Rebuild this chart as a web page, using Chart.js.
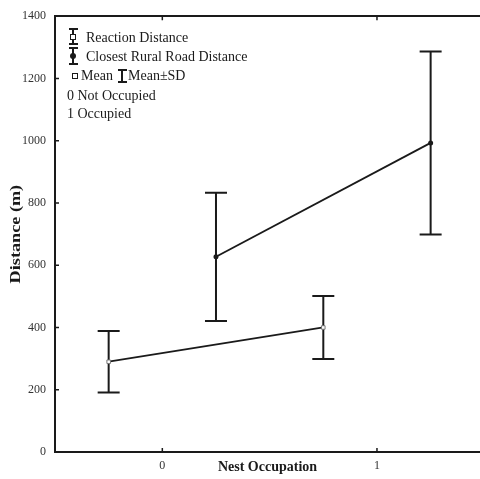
<!DOCTYPE html>
<html>
<head>
<meta charset="utf-8">
<script src="https://cdn.jsdelivr.net/npm/chart.js@4.4.0/dist/chart.umd.min.js"></script>
<style>
  body { margin: 0; background: #fff; }
  #wrap { width: 480px; height: 479px; position: relative; }
</style>
</head>
<body>
<div id="wrap"><canvas id="chart_nest"></canvas></div>
<script>
// groups on the x axis (0 = not occupied, 1 = occupied)
const categories = [0, 1]
const tickLabels = ['0', '1']
const yTicks = [0, 200, 400, 600, 800, 1000, 1200, 1400]

// means and standard deviations
const reactionMean = [290, 400]
const reactionSD = [99, 101]
const roadMean = [627, 993]
const roadSD = [206, 294]

const seriesNames = ['Reaction Distance', 'Closest Rural Road Distance']
const groupNames = ['0 Not Occupied', '1 Occupied']
const yTitle = 'Distance (m)'

const INK = '#1a1a1a'
const SERIF = '"Liberation Serif", "DejaVu Serif", serif'
const dodge = 0.25

function points(means, shift) {
    return categories.map((c, i) => ({ x: c + shift, y: means[i] }))
}

// vertical SD bars with caps, drawn under the markers
const errorBars = {
    id: 'errorBars',
    beforeDatasetsDraw(chart) {
        const ctx = chart.ctx
        const y = chart.scales.y
        chart.data.datasets.forEach((ds, i) => {
            const meta = chart.getDatasetMeta(i)
            meta.data.forEach((pt, j) => {
                const top = y.getPixelForValue(ds.data[j].y + ds.sd[j])
                const bot = y.getPixelForValue(ds.data[j].y - ds.sd[j])
                ctx.save()
                ctx.strokeStyle = INK
                ctx.lineWidth = 2
                ctx.beginPath()
                ctx.moveTo(pt.x, top); ctx.lineTo(pt.x, bot)
                ctx.moveTo(pt.x - 11, top); ctx.lineTo(pt.x + 11, top)
                ctx.moveTo(pt.x - 11, bot); ctx.lineTo(pt.x + 11, bot)
                ctx.stroke()
                ctx.restore()
            })
        })
    }
}

// inward tick marks, y title and the in-plot legend
const frameAndLegend = {
    id: 'frameAndLegend',
    afterDraw(chart) {
        const ctx = chart.ctx
        const area = chart.chartArea
        const x = chart.scales.x
        const y = chart.scales.y
        ctx.save()
        ctx.strokeStyle = INK
        ctx.lineWidth = 1.5
        ctx.beginPath()
        categories.forEach(c => {
            const px = x.getPixelForValue(c)
            ctx.moveTo(px, area.bottom); ctx.lineTo(px, area.bottom - 4)
            ctx.moveTo(px, area.top); ctx.lineTo(px, area.top + 4)
        })
        yTicks.forEach(v => {
            const py = y.getPixelForValue(v)
            ctx.moveTo(area.left, py); ctx.lineTo(area.left + 4, py)
        })
        ctx.stroke()

        // y axis title, a little stretched like the original
        ctx.save()
        ctx.translate(16, (area.top + area.bottom) / 2)
        ctx.rotate(-Math.PI / 2)
        ctx.scale(1.3, 1)
        ctx.font = 'bold 14px ' + SERIF
        ctx.fillStyle = INK
        ctx.textAlign = 'center'
        ctx.textBaseline = 'middle'
        ctx.fillText(yTitle, 0, 0)
        ctx.restore()

        // legend icons
        ctx.lineWidth = 2
        ctx.beginPath()
        ctx.moveTo(73, 29); ctx.lineTo(73, 44)
        ctx.moveTo(69, 29); ctx.lineTo(78, 29)
        ctx.moveTo(69, 44); ctx.lineTo(78, 44)
        ctx.moveTo(73, 48); ctx.lineTo(73, 64)
        ctx.moveTo(69, 48); ctx.lineTo(78, 48)
        ctx.moveTo(69, 64); ctx.lineTo(78, 64)
        ctx.moveTo(122, 70); ctx.lineTo(122, 82)
        ctx.moveTo(118, 70); ctx.lineTo(127, 70)
        ctx.moveTo(118, 82); ctx.lineTo(127, 82)
        ctx.stroke()
        ctx.lineWidth = 1
        ctx.fillStyle = '#fff'
        ctx.fillRect(70.5, 34.5, 5, 5); ctx.strokeRect(70.5, 34.5, 5, 5)
        ctx.fillRect(72.5, 73.5, 5, 5); ctx.strokeRect(72.5, 73.5, 5, 5)
        ctx.fillStyle = INK
        ctx.beginPath(); ctx.arc(73, 56, 3, 0, Math.PI * 2); ctx.fill()

        ctx.font = '14px ' + SERIF
        ctx.textBaseline = 'middle'
        ctx.fillText(seriesNames[0], 86, 38)
        ctx.fillText(seriesNames[1], 86, 57)
        ctx.fillText('Mean', 81, 76)
        ctx.fillText('Mean±SD', 128, 76)
        ctx.fillText(groupNames[0], 67, 96)
        ctx.fillText(groupNames[1], 67, 114)
        ctx.restore()
    }
}

const config = {
    type: 'line',
    data: {
        datasets: [{
            label: seriesNames[0],
            data: points(reactionMean, -dodge),
            sd: reactionSD,
            borderColor: INK,
            borderWidth: 1.8,
            pointStyle: 'rect',
            pointRadius: 2.5,
            pointBackgroundColor: '#fff',
            pointBorderColor: '#777',
            pointBorderWidth: 1
        }, {
            label: seriesNames[1],
            data: points(roadMean, dodge),
            sd: roadSD,
            borderColor: INK,
            borderWidth: 1.8,
            pointStyle: 'circle',
            pointRadius: 2.5,
            pointBackgroundColor: INK,
            pointBorderColor: INK,
            pointBorderWidth: 0
        }]
    },
    options: {
        responsive: true,
        maintainAspectRatio: false,
        animation: false,
        layout: { padding: 0, autoPadding: false },
        plugins: {
            legend: { display: false },
            tooltip: { enabled: false }
        },
        scales: {
            x: {
                type: 'linear',
                position: 'bottom',
                min: -0.5,
                max: 1.48,
                afterBuildTicks: (s) => { s.ticks = categories.map(v => ({ value: v })) },
                afterFit: (s) => { s.height = 27 },
                grid: { display: false, drawTicks: false },
                border: { display: true, color: INK, width: 2 },
                ticks: {
                    padding: 7,
                    color: '#333',
                    font: { family: SERIF, size: 12 },
                    callback: (v) => tickLabels[categories.indexOf(v)]
                },
                title: {
                    display: true,
                    text: 'Nest Occupation',
                    color: INK,
                    font: { family: SERIF, size: 14, weight: 'bold' },
                    padding: { top: 0, bottom: 3 }
                }
            },
            x2: {
                type: 'linear',
                position: 'top',
                min: -0.5,
                max: 1.48,
                afterBuildTicks: (s) => { s.ticks = categories.map(v => ({ value: v })) },
                afterFit: (s) => { s.height = 12 },
                grid: { display: false, drawTicks: false },
                border: { display: true, color: INK, width: 2 },
                ticks: { display: false }
            },
            y: {
                min: 0,
                max: 1400,
                afterBuildTicks: (s) => { s.ticks = yTicks.map(v => ({ value: v })) },
                afterFit: (s) => { s.width = 55 },
                grid: { display: false, drawTicks: false },
                border: { display: true, color: INK, width: 2 },
                ticks: {
                    padding: 9,
                    color: '#333',
                    font: { family: SERIF, size: 12 },
                    callback: (v) => String(v)
                }
            }
        }
    },
    plugins: [errorBars, frameAndLegend]
}

const ctx = document.getElementById('chart_nest').getContext('2d')
window.nestChart = new Chart(ctx, config)
</script>
</body>
</html>
